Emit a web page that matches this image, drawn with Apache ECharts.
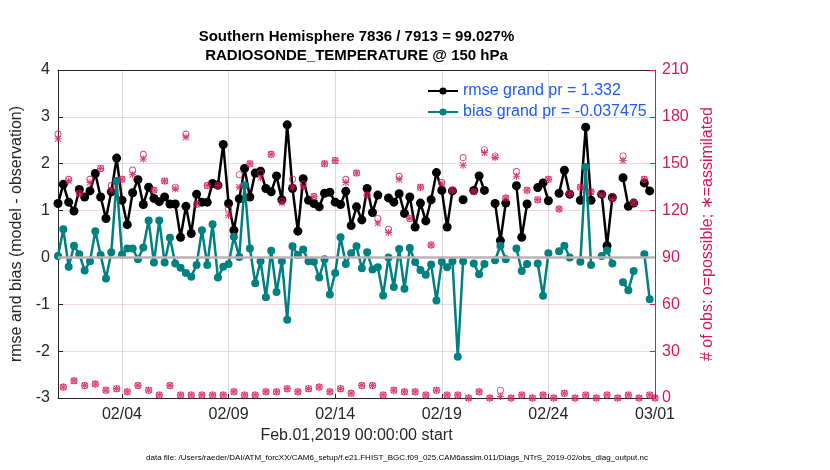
<!DOCTYPE html>
<html>
<head>
<meta charset="utf-8">
<script src="https://cdn.jsdelivr.net/npm/echarts@6/dist/echarts.min.js"></script>
<style>
html, body { margin: 0; padding: 0; background: #fff; }
#chart-0 { width: 830px; height: 470px; }
</style>
</head>
<body>
<div id="chart-0"></div>
<script>
// 6-hourly bins starting Feb.01 00Z, x is days since start
var binHours = 6;
var xTickDays = [3, 8, 13, 18, 23, 28];
var xTickLabels = ['02/04', '02/09', '02/14', '02/19', '02/24', '03/01'];

var rmse = [
    1.15, 1.56, 1.18, 0.99, 1.45, 1.29, 1.42, 1.79, 1.29, 0.83,
    1.40, 2.12, 1.22, 0.70, 1.38, 1.66, 1.13, 1.50, 1.26, 1.19,
    1.29, 1.14, 1.14, 0.43, 1.09, 0.51, 1.35, 1.18, 1.18, 1.58,
    1.54, 2.41, 1.15, 0.58, 1.25, 1.90, 1.29, 1.80, 1.84, 1.47,
    1.40, 1.74, 1.23, 2.83, 1.47, 0.56, 1.68, 1.22, 1.15, 1.08,
    1.37, 1.39, 1.18, 1.13, 1.41, 0.68, 1.08, 0.80, 1.47, 0.96,
    1.33, null, 1.27, 1.18, 1.36, 0.94, 1.29, 0.65, 1.16, 0.78,
    1.23, 1.81, 1.43, 0.65, 1.42, null, 1.23, null, 1.43, 1.74,
    1.43, null, 1.15, 0.36, 1.16, null, 1.53, 0.43, 1.14, null,
    1.49, 1.59, 1.21, null, 1.37, 1.86, 1.35, null, 1.22, 2.78,
    1.22, null, 1.35, 0.25, 1.28, null, 1.70, 1.09, 1.16, null,
    1.59, 1.42, null
];
var bias = [
    0.03, 0.60, -0.20, 0.25, 0.07, -0.28, -0.08, 0.56, 0.05, -0.45,
    0.11, 1.63, 0.06, 0.19, 0.19, -0.04, 0.21, 0.79, -0.11, 0.79,
    -0.11, 0.42, -0.13, -0.22, -0.33, -0.41, -0.16, 0.58, -0.16, 0.71,
    -0.43, -0.20, -0.14, 0.44, 0.01, 1.54, 0.19, -0.55, -0.08, -0.85,
    0.14, -0.74, -0.08, -1.33, 0.24, 0.05, 0.17, -0.08, -0.09, -0.43,
    -0.04, -0.79, -0.33, 0.43, -0.14, 0.09, 0.24, -0.23, 0.11, -0.26,
    -0.21, -0.81, 0.00, -0.63, 0.18, -0.67, 0.20, -0.10, -0.27, -0.37,
    -0.15, -0.92, -0.09, -0.21, -0.08, -2.12, -0.08, null, -0.13, -0.36,
    -0.14, null, -0.06, 0.25, -0.04, null, 0.19, -0.29, -0.14, null,
    -0.13, -0.82, 0.09, null, 0.13, 0.25, 0.00, null, -0.09, 1.93,
    -0.16, null, 0.03, 0.15, -0.13, null, -0.53, -0.70, -0.29, null,
    0.07, -0.89, null
];
var obsPossible = [
    169, 7, 140, 11, 131, 8, 140, 9, 147, 5,
    136, 6, 140, 4, 146, 8, 156, 5, 133, 2,
    139, 8, 135, 2, 169, 2, 124, 2, 136, 2,
    136, 2, 121, 4, 143, 2, 150, 2, 144, 4,
    156, 4, 126, 6, 140, 4, 137, 6, 129, 7,
    150, 4, 152, 6, 140, 3, 144, 8, 130, 8,
    115, 2, 108, 5, 142, 4, 115, 4, 135, 2,
    98, 5, 138, 2, 133, 2, 154, 0, 132, 4,
    159, 0, 155, 5, 128, 0, 145, 2, 133, 0,
    127, 2, 140, 0, 121, 3, 131, 0, 135, 2,
    132, 0, 131, 2, 129, 0, 155, 2, 125, 0,
    140, 2, 0
];
var obsAssimilated = [
    166, 7, 139, 11, 131, 8, 138, 9, 147, 5,
    133, 6, 140, 4, 143, 8, 153, 5, 133, 2,
    139, 8, 134, 2, 167, 2, 124, 2, 136, 2,
    136, 2, 117, 4, 135, 2, 150, 2, 141, 4,
    156, 4, 125, 6, 135, 4, 135, 6, 129, 7,
    150, 4, 152, 6, 138, 3, 144, 8, 130, 8,
    112, 2, 106, 5, 140, 4, 115, 4, 135, 2,
    98, 5, 137, 2, 133, 2, 149, 0, 132, 4,
    157, 0, 154, 1, 128, 0, 142, 2, 133, 0,
    127, 2, 140, 0, 121, 3, 131, 0, 135, 2,
    132, 0, 130, 2, 127, 0, 152, 2, 125, 0,
    140, 2, 0
];

var red = '#d7175b';
var teal = '#008080';
var ink = '#262626';
var font = '"Liberation Sans", Arial, Helvetica, sans-serif';

// matlab style markers
var starPath = 'path://M8.5,0L11.5,0L11.5,20L8.5,20Z M0,8.5L20,8.5L20,11.5L0,11.5Z ' +
    'M2.56,0.44L19.56,17.44L17.44,19.56L0.44,2.56Z M17.44,0.44L19.56,2.56L2.56,19.56L0.44,17.44Z';
var ringPath = 'path://M1,10A9,9,0,1,1,19,10A9,9,0,1,1,1,10Z M3.4,10A6.6,6.6,0,1,0,16.6,10A6.6,6.6,0,1,0,3.4,10Z';

function pairs(values) {
    return values.map(function(v, i) {
        return [i * binHours / 24, v === null ? '-' : v];
    });
}

var chart = echarts.init(document.getElementById('chart-0'));
var option = {
    animation: false,
    textStyle: { fontFamily: font },
    graphic: [{
        type: 'text',
        style: {
            text: 'Southern Hemisphere 7836 / 7913 = 99.027%',
            x: 356.5, y: 37, align: 'center', verticalAlign: 'middle',
            font: 'bold 15px ' + font, fill: '#000'
        }
    }, {
        type: 'text',
        style: {
            text: 'RADIOSONDE_TEMPERATURE @ 150 hPa',
            x: 356.5, y: 56, align: 'center', verticalAlign: 'middle',
            font: 'bold 15px ' + font, fill: '#000'
        }
    }, {
        type: 'text',
        style: {
            text: 'data file: /Users/raeder/DAI/ATM_forcXX/CAM6_setup/f.e21.FHIST_BGC.f09_025.CAM6assim.011/Diags_NTrS_2019-02/obs_diag_output.nc',
            x: 397, y: 458, align: 'center', verticalAlign: 'middle',
            font: '8px ' + font, fill: '#000'
        }
    }],
    grid: { left: 58, right: 175, top: 70, bottom: 72 },
    legend: {
        orient: 'vertical',
        left: 422,
        top: 78,
        z: 10,
        itemWidth: 30,
        itemHeight: 9,
        itemGap: 5,
        data: ['rmse grand pr = 1.332', 'bias grand pr = -0.037475'],
        textStyle: { color: '#1a5cff', fontSize: 16, fontFamily: font }
    },
    xAxis: [{
        type: 'value',
        min: 0,
        max: 28,
        position: 'bottom',
        name: 'Feb.01,2019 00:00:00 start',
        nameLocation: 'middle',
        nameGap: 29,
        nameTextStyle: { fontSize: 16, color: ink },
        axisLine: { onZero: false, lineStyle: { color: ink, width: 1 } },
        axisTick: { inside: true, length: 4, customValues: xTickDays, lineStyle: { color: ink } },
        axisLabel: {
            customValues: xTickDays,
            fontSize: 16,
            color: ink,
            margin: 9,
            formatter: function(v) {
                var i = xTickDays.indexOf(v);
                return i >= 0 ? xTickLabels[i] : '';
            }
        },
        splitLine: { show: true, lineStyle: { color: '#d9d9d9', width: 1 } }
    }, {
        type: 'value',
        min: 0,
        max: 28,
        position: 'top',
        axisLine: { onZero: false, lineStyle: { color: ink, width: 1 } },
        axisTick: { show: false },
        axisLabel: { show: false },
        splitLine: { show: false }
    }],
    yAxis: [{
        type: 'value',
        min: -3,
        max: 4,
        interval: 1,
        position: 'left',
        name: 'rmse and bias (model - observation)',
        nameLocation: 'middle',
        nameGap: 31,
        nameTextStyle: { fontSize: 16, color: ink },
        axisLine: { show: true, onZero: false, lineStyle: { color: ink, width: 1 } },
        axisTick: { show: true, inside: true, length: 5, lineStyle: { color: ink } },
        axisLabel: { fontSize: 16, color: ink, margin: 8 },
        splitLine: { show: false }
    }, {
        type: 'value',
        min: 0,
        max: 210,
        interval: 30,
        position: 'right',
        name: '# of obs: o=possible; \u2217=assimilated',
        nameLocation: 'middle',
        nameGap: 34,
        nameTextStyle: { fontSize: 16, color: red },
        axisLine: { show: true, onZero: false, lineStyle: { color: red, width: 1 } },
        axisTick: { show: true, inside: true, length: 5, lineStyle: { color: red } },
        axisLabel: { fontSize: 16, color: red, margin: 7 },
        splitLine: { show: true, showMinLine: false, showMaxLine: false, lineStyle: { color: '#f6d4e1', width: 1 } }
    }],
    series: [{
        name: 'rmse grand pr = 1.332',
        type: 'line',
        yAxisIndex: 0,
        data: pairs(rmse),
        connectNulls: false,
        symbol: 'circle',
        symbolSize: 9,
        itemStyle: { color: '#000' },
        lineStyle: { color: '#000', width: 2.5 },
        z: 3
    }, {
        name: 'bias grand pr = -0.037475',
        type: 'line',
        yAxisIndex: 0,
        data: pairs(bias),
        connectNulls: false,
        symbol: 'circle',
        symbolSize: 8,
        itemStyle: { color: teal },
        lineStyle: { color: teal, width: 2.5 },
        markLine: {
            silent: true,
            symbol: ['none', 'none'],
            label: { show: false },
            lineStyle: { color: '#bab2b4', width: 2.5, type: 'solid' },
            data: [{ yAxis: 0 }]
        },
        z: 4
    }, {
        name: 'possible',
        type: 'scatter',
        yAxisIndex: 1,
        data: pairs(obsPossible),
        symbol: ringPath,
        symbolSize: 7,
        itemStyle: { color: red },
        z: 5
    }, {
        name: 'assimilated',
        type: 'scatter',
        yAxisIndex: 1,
        data: pairs(obsAssimilated),
        symbol: starPath,
        symbolSize: 7,
        itemStyle: { color: red },
        z: 6
    }]
};
chart.setOption(option);
</script>
</body>
</html>
